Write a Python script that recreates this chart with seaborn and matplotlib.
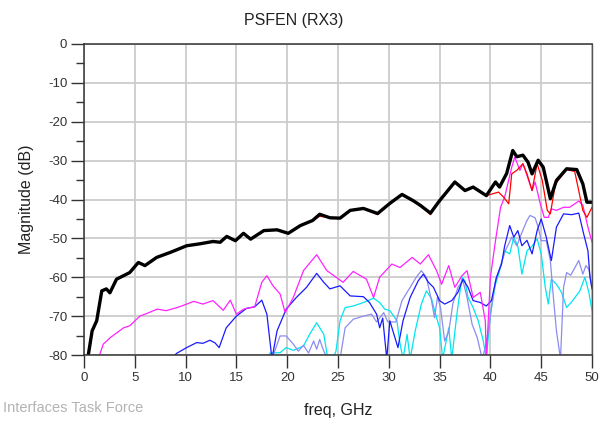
import matplotlib
matplotlib.use("Agg")
import matplotlib.pyplot as plt
import seaborn as sns
import pandas as pd
from matplotlib.ticker import MultipleLocator

# ---------------- data (freq in GHz, magnitude in dB) ----------------
black_f = [0.3, 0.8, 1.25, 1.75, 2.2, 2.55, 3.2, 4.5, 5.35, 6.0, 7.15, 8.5, 10.1, 11.4, 12.7, 13.4,
           14.05, 14.9, 15.7, 16.4, 17.7, 19.0, 20.1, 21.3, 22.5, 23.2, 24.2, 25.2, 26.2, 27.5, 28.9,
           30.1, 31.3, 32.4, 33.1, 34.1, 35.0, 36.5, 37.5, 38.3, 39.6, 40.5, 40.9, 41.6, 42.2, 42.6,
           43.2, 43.7, 44.1, 44.7, 45.2, 45.9, 46.5, 47.5, 48.5, 49.1, 49.5, 50.0]
black_db = [-82, -73.8, -71.2, -63.5, -63.0, -64, -60.5, -58.8, -56.2, -57, -54.9, -53.6, -51.9, -51.4,
            -50.8, -51, -49.5, -50.6, -48.7, -50.2, -48, -47.8, -48.7, -46.7, -45.4, -43.8, -44.7,
            -44.8, -42.8, -42.3, -43.6, -41, -38.7, -40.3, -41.5, -43.5, -40.3, -35.5, -37.7, -36.8,
            -39, -35.5, -36.8, -33.3, -27.4, -29, -28.6, -30.4, -33.4, -29.9, -31.7, -39.8, -35.1,
            -32.1, -32.3, -36, -40.7, -40.7]

red_f = [0.3, 0.8, 1.25, 1.75, 2.2, 2.55, 3.2, 4.5, 5.35, 6.0, 7.15, 8.5, 10.1, 11.4, 12.7, 13.4,
         14.05, 14.9, 15.7, 16.4, 17.7, 19.0, 20.1, 21.3, 22.5, 23.2, 24.2, 25.2, 26.2, 27.5, 28.9,
         30.1, 31.3, 32.4, 33.1, 34.1, 35.0, 36.5, 37.5, 38.3, 39.6, 40.8, 41.3, 41.8, 42.1, 42.6,
         43.2, 43.6, 44.1, 44.6, 45.1, 45.6, 45.9, 46.4, 47.5, 48.3, 49.1, 49.5, 50.0]
red_db = [-82, -73.8, -71.2, -63.5, -63.0, -64, -60.5, -58.8, -56.2, -57, -54.9, -53.6, -51.9, -51.4,
          -50.8, -51, -49.5, -50.6, -48.7, -50.2, -48, -47.8, -48.7, -46.7, -45.4, -44.3, -44.7,
          -44.8, -42.8, -42.3, -43.9, -41, -38.7, -40.3, -41.5, -43.9, -40.3, -35.5, -37.7, -36.8,
          -39, -38.1, -39.4, -41.1, -33.4, -32.5, -30.8, -33.4, -37.7, -30.8, -35, -42.8, -43.7,
          -36, -32.3, -32.8, -42.8, -44.6, -42]

mag_f = [1.4, 1.9, 2.6, 3.9, 4.5, 5.5, 6.2, 7.2, 8.1, 9.4, 10.8, 11.7, 12.7, 13.7, 14.4, 15.0, 15.7,
         16.8, 17.5, 18.0, 18.6, 19.3, 19.8, 20.6, 21.6, 22.9, 23.9, 24.6, 25.5, 26.5, 27.8, 28.5,
         29.1, 30.3, 31.1, 32.3, 33.1, 33.9, 34.7, 35.2, 35.9, 36.5, 37.2, 37.7, 38.3, 39.0, 39.5,
         39.6, 40.0, 40.5, 41.0, 41.4, 42.1, 42.4, 42.9, 43.2, 43.6, 44.1, 44.4, 44.9, 45.3, 45.7,
         46.0, 46.5, 47.2, 47.8, 48.7, 49.1, 49.6, 50.0]
mag_db = [-81, -77.2, -75.5, -73, -72.5, -70, -69.3, -68.2, -68.6, -67.6, -66.2, -66.9, -66, -68.5,
          -65.9, -69.5, -68.2, -67.6, -61.3, -59.6, -62.2, -64.3, -69.1, -65.2, -58.3, -54.2, -58.3,
          -59.6, -61.3, -58.5, -60.5, -65.2, -60, -56.6, -57.5, -54.9, -56.6, -54.2, -58.3, -61.8,
          -57, -62.6, -59.6, -58.3, -65.2, -63.9, -71.2, -81, -60, -50.6, -42, -39.4, -31.7, -29.1,
          -32.5, -30.8, -33.8, -37.7, -35.5, -41, -44.6, -44.6, -42.4, -42.8, -42, -42, -40.4,
          -41.5, -47.1, -51]

blue_f = [8.6, 9.1, 10.1, 11.1, 11.7, 12.4, 12.9, 13.3, 14.0, 15.0, 16.0, 16.8, 17.5, 18.0, 18.5,
          19.0, 19.9, 20.9, 21.9, 22.9, 23.6, 24.2, 25.2, 26.2, 27.5, 28.1, 28.8, 29.1, 29.4, 29.8,
          30.1, 30.6, 30.9, 31.4, 32.1, 32.9, 33.4, 33.9, 34.4, 35.0, 35.5, 36.2, 36.8, 37.3, 37.8,
          38.3, 39.0, 39.6, 40.1, 40.6, 41.1, 41.4, 41.9, 42.3, 42.7, 43.1, 43.6, 44.1, 44.6, 45.0,
          45.5, 46.0, 46.5, 47.2, 48.0, 48.7, 49.1, 49.6, 49.8, 50.0]
blue_db = [-81, -79.6, -78.1, -76.8, -77, -76.2, -76.9, -78.1, -73, -70, -68, -67.6, -65.9, -69.5,
           -81, -73.8, -68.2, -65.2, -62.6, -59, -61.3, -63, -62.2, -64.8, -65, -66.5, -69.5, -73,
           -70.5, -81, -71.2, -75.5, -78.1, -71.2, -65.2, -60.9, -59.2, -61.3, -62.6, -66, -66.9,
           -66, -63.9, -60.5, -62.6, -66, -66.5, -67.4, -66, -60, -56.6, -52, -46.7, -49.7, -48,
           -51.9, -50.5, -54, -48, -45, -49.7, -55.7, -47.1, -43.7, -43.9, -43.5, -48, -53.2, -60,
           -63]

lav_f = [18.5, 19.3, 19.9, 20.6, 21.1, 21.6, 22.1, 22.6, 22.9, 23.2, 23.6, 24.0, 25.2, 25.7, 26.5,
         27.5, 28.3, 28.8, 29.5, 29.9, 30.7, 31.3, 32.1, 32.7, 33.2, 33.7, 34.2, 34.5, 34.8, 35.1,
         35.5, 35.9, 36.3, 36.8, 37.3, 37.7, 38.2, 38.7, 39.2, 39.5, 39.8, 40.2, 40.5, 41.0, 41.5,
         42.1, 42.6, 43.1, 43.6, 43.9, 44.4, 44.7, 45.0, 45.5, 45.9, 46.2, 46.5, 46.9, 47.2, 47.5,
         47.9, 48.7, 49.1, 49.4, 49.7, 50.0]
lav_db = [-81, -75.1, -75.1, -77.2, -79, -77.5, -79.5, -76.4, -78.5, -76, -79, -81, -81, -73,
          -70.8, -70, -69.5, -71.5, -69.1, -71.5, -71.5, -66, -62.6, -60, -58.3, -60, -66, -70.4,
          -65, -68, -76.4, -74, -66.9, -62.6, -60.9, -65.2, -72.1, -75.5, -81, -78, -73.8, -66,
          -60.9, -57, -53, -49.7, -51.9, -48.5, -45.4, -44.1, -44.7, -47.1, -50.6, -50.6, -55.7,
          -65.2, -73.8, -81, -62.6, -58.8, -59.5, -55.7, -59.2, -57, -58, -62.6]

cyan_f = [18.0, 18.3, 19.3, 19.9, 20.6, 21.6, 22.2, 22.9, 23.6, 24.0, 24.5, 24.8, 25.2, 25.7, 26.5,
          27.5, 28.5, 29.1, 29.6, 30.1, 30.8, 31.1, 31.4, 31.8, 32.1, 32.6, 33.2, 33.7, 34.2, 34.7,
          35.0, 35.3, 35.9, 36.2, 36.7, 37.2, 37.5, 37.8, 38.3, 38.8, 39.3, 39.6, 40.0, 40.5, 40.9,
          41.4, 41.9, 42.3, 42.7, 43.1, 43.6, 44.1, 44.6, 45.0, 45.4, 45.7, 46.0, 46.5, 47.0, 47.5,
          48.1, 48.8, 49.3, 49.7, 50.0]
cyan_db = [-81, -79.5, -79.4, -78.1, -78.8, -77.7, -74.7, -71.7, -74.7, -81, -81, -79, -71.2, -67.8,
           -67.4, -66.5, -65.4, -66.5, -68.2, -68.6, -71.2, -77, -81, -74.7, -81, -73.8, -66.9,
           -63.5, -65.5, -70.4, -73, -81, -73, -81, -69.5, -60, -61, -65.2, -67.8, -71.2, -76.4,
           -81, -69.5, -61.8, -58.3, -53.2, -54, -49.7, -52, -59.2, -53.2, -52, -50.1, -54, -62.6,
           -66.9, -60.5, -61.8, -63.9, -67.8, -66, -63.5, -60, -64, -68.6]

x_ticks = [0, 5, 10, 15, 20, 25, 30, 35, 40, 45, 50]
y_ticks = [0, -10, -20, -30, -40, -50, -60, -70, -80]

# ---------------- style ----------------
sns.set_style("white")
plt.rcParams["font.family"] = ["Liberation Sans", "DejaVu Sans"]
plt.rcParams["axes.unicode_minus"] = False

fig = plt.figure(figsize=(5.99, 4.23), dpi=100)
ax = fig.add_axes([84 / 599, 1 - 355 / 423, (592 - 84) / 599, (355 - 44) / 423])

series = [
    (cyan_f, cyan_db, "#00e5f0", 0.9),
    (lav_f, lav_db, "#8c8cf0", 0.9),
    (blue_f, blue_db, "#1a1aff", 0.9),
    (mag_f, mag_db, "#ff22ff", 0.9),
    (red_f, red_db, "#ff0000", 0.9),
    (black_f, black_db, "#000000", 2.4),
]
for fx, fy, col, lw in series:
    df = pd.DataFrame({"freq": fx, "mag": fy})
    sns.lineplot(data=df, x="freq", y="mag", ax=ax, color=col, linewidth=lw,
                 estimator=None, sort=False, legend=False)

ax.set_xlim(0, 50)
ax.set_ylim(-80, 0)
ax.set_xticks(x_ticks)
ax.set_yticks(y_ticks)
ax.yaxis.set_minor_locator(MultipleLocator(5))
ax.grid(True, which="major", color="#cbcbcb", linewidth=1.3)
ax.set_axisbelow(True)

for side in ["left", "bottom", "top"]:
    ax.spines[side].set_color("#333333")
    ax.spines[side].set_linewidth(1.1)
ax.spines["right"].set_color("#555555")
ax.spines["right"].set_linewidth(1.0)

ax.tick_params(axis="both", which="major", direction="out", length=9.5, width=1.0,
               color="#333333", labelsize=9.5, labelcolor="#333333", pad=2.5)
ax.tick_params(axis="y", which="minor", direction="out", length=5.5, width=1.0,
               color="#333333")
ax.tick_params(axis="x", which="both", bottom=True, top=False)
ax.tick_params(axis="y", which="both", left=True, right=False)

ax.set_xlabel("freq, GHz", fontsize=11.5, color="#222222", labelpad=14)
ax.set_ylabel("Magnitude (dB)", fontsize=11.5, color="#222222", labelpad=10)

fig.text(294 / 599, 1 - 20 / 423, "PSFEN (RX3)", ha="center", va="center",
         fontsize=11.5, color="#222222")
fig.text(3 / 599, 1 - 408 / 423, "Interfaces Task Force", ha="left", va="center",
         fontsize=10.5, color="#b3b3b3")

fig.savefig("out.png", dpi=100)
